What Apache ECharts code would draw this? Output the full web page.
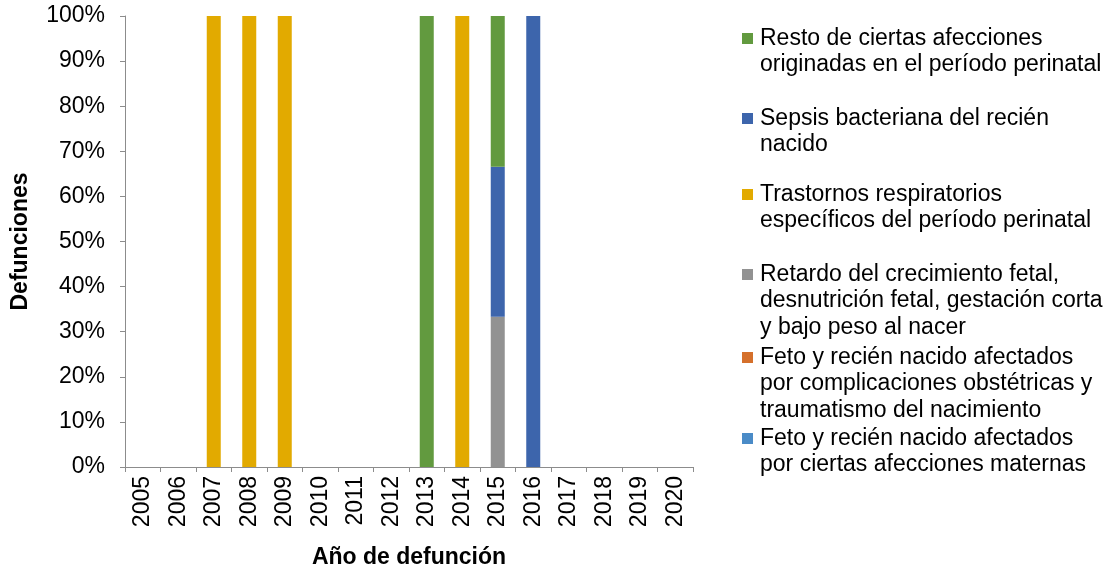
<!DOCTYPE html>
<html>
<head>
<meta charset="utf-8">
<script src="https://cdn.jsdelivr.net/npm/echarts@6/dist/echarts.min.js"></script>
<style>
  html, body { margin: 0; padding: 0; background: #fff; }
  #chart { width: 1120px; height: 571px; }
</style>
</head>
<body>
<div id="chart"></div>
<script>
// Years on the category axis
const years = ['2005','2006','2007','2008','2009','2010','2011','2012',
               '2013','2014','2015','2016','2017','2018','2019','2020'];

// Share of deaths per cause and year (%), stacked bottom to top
const maternas    = [0,0,0,0,0,0,0,0,0,0,0,0,0,0,0,0];
const obstetricas = [0,0,0,0,0,0,0,0,0,0,0,0,0,0,0,0];
const retardo     = [0,0,0,0,0,0,0,0,0,0,33.3,0,0,0,0,0];
const trastornos  = [0,0,100,100,100,0,0,0,0,100,0,0,0,0,0,0];
const sepsis      = [0,0,0,0,0,0,0,0,0,0,33.3,100,0,0,0,0];
const resto       = [0,0,0,0,0,0,0,0,100,0,33.4,0,0,0,0,0];

const yTicks = [0,10,20,30,40,50,60,70,80,90,100];

const seriesDefs = [
  { lines: ['Feto y recién nacido afectados', 'por ciertas afecciones maternas'], data: maternas, color: '#4A8BC7' },
  { lines: ['Feto y recién nacido afectados', 'por complicaciones obstétricas y', 'traumatismo del nacimiento'], data: obstetricas, color: '#D5702B' },
  { lines: ['Retardo del crecimiento fetal,', 'desnutrición fetal, gestación corta', 'y bajo peso al nacer'], data: retardo, color: '#929292' },
  { lines: ['Trastornos respiratorios', 'específicos del período perinatal'], data: trastornos, color: '#E2AA00' },
  { lines: ['Sepsis bacteriana del recién', 'nacido'], data: sepsis, color: '#3D65AC' },
  { lines: ['Resto de ciertas afecciones', 'originadas en el período perinatal'], data: resto, color: '#629A3F' }
];

const FONT = 'Liberation Sans, Arial, sans-serif';
const axisColor = '#8C8C8C';

// Legend, listed top-of-stack first; top of each entry's text block
const legendTops = [25, 105, 181, 261, 344, 425];
const lineH = 26.5;
const legendGraphics = [];
seriesDefs.slice().reverse().forEach((s, i) => {
  const top = legendTops[i];
  legendGraphics.push({
    type: 'rect', left: 742, top: top + 8, shape: { width: 11, height: 11 },
    style: { fill: s.color }
  });
  legendGraphics.push({
    type: 'text', left: 760, top: top,
    style: { text: s.lines.join('\n'), font: '23px ' + FONT, fill: '#000', lineHeight: lineH }
  });
});

const chart = echarts.init(document.getElementById('chart'), null, { renderer: 'canvas' });
chart.setOption({
  animation: false,
  backgroundColor: '#fff',
  grid: { left: 125, right: 427, top: 16, bottom: 104, containLabel: false, outerBoundsMode: 'none' },
  xAxis: {
    type: 'category',
    data: years,
    name: 'Año de defunción',
    nameLocation: 'middle',
    nameGap: 79,
    nameTextStyle: { fontFamily: FONT, fontSize: 23, fontWeight: 'bold', color: '#000' },
    axisLine: { lineStyle: { color: axisColor, width: 1 } },
    axisTick: { show: true, alignWithLabel: false, length: 5, lineStyle: { color: axisColor } },
    axisLabel: { rotate: 90, fontFamily: FONT, fontSize: 23, color: '#000', margin: 9, interval: 0 }
  },
  yAxis: {
    type: 'value',
    min: 0, max: 100, interval: 10,
    name: 'Defunciones',
    nameLocation: 'middle',
    nameGap: 93,
    nameTextStyle: { fontFamily: FONT, fontSize: 23, fontWeight: 'bold', color: '#000' },
    axisLine: { show: true, lineStyle: { color: axisColor, width: 1 } },
    axisTick: { show: true, length: 5, lineStyle: { color: axisColor } },
    splitLine: { show: false },
    axisLabel: {
      fontFamily: FONT, fontSize: 23, color: '#000', margin: 20,
      formatter: v => yTicks.includes(v) ? v + '%' : ''
    }
  },
  series: seriesDefs.map(s => ({
    name: s.lines.join(' '),
    type: 'bar',
    stack: 'total',
    data: s.data,
    barWidth: 14,
    itemStyle: { color: s.color },
    emphasis: { disabled: true }
  })),
  graphic: legendGraphics
});
</script>
</body>
</html>
